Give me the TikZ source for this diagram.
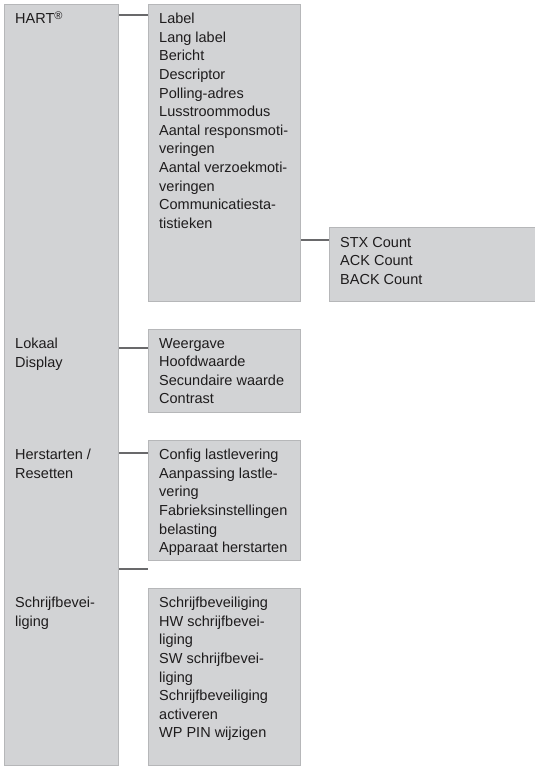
\documentclass[tikz,border=0pt]{standalone}
\usepackage{fontspec}
\setmainfont{Liberation Sans}
\usetikzlibrary{positioning}

\definecolor{boxfill}{RGB}{210,211,213}
\definecolor{boxline}{RGB}{182,183,185}
\definecolor{connline}{RGB}{105,105,107}
\definecolor{txtcol}{RGB}{30,28,29}

\begin{document}
\begin{tikzpicture}[
    x=1pt, y=1pt,
    font=\fontsize{14.5}{18.6}\selectfont,
    box/.style={rectangle, draw=boxline, fill=boxfill, line width=1.2pt, inner sep=0pt, anchor=north west},
    txt/.style={inner sep=0pt, align=left, text=txtcol},
    conn/.style={connline, line width=2pt}
  ]
  \useasboundingbox (0,0) rectangle (535,-766);

  % boxes
  \node (menu)  [box, minimum width=114pt, minimum height=761pt] at (4,-4)     {};
  \node (hart)  [box, minimum width=152pt, minimum height=297pt] at (148,-4)   {};
  \node (stx)   [box, minimum width=212pt, minimum height=74pt]  at (329,-227) {};
  \node (disp)  [box, minimum width=152pt, minimum height=83pt]  at (148,-329) {};
  \node (reset) [box, minimum width=152pt, minimum height=120pt] at (148,-440) {};
  \node (wp)    [box, minimum width=152pt, minimum height=177pt] at (148,-588) {};

  % menu entries on the left
  \coordinate (hartleft)  at (menu.west |- hart.north);
  \coordinate (displeft)  at (menu.west |- disp.north);
  \coordinate (resetleft) at (menu.west |- reset.north);
  \coordinate (wpleft)    at (menu.west |- wp.north);

  \node (harttitle)  [txt, below right=9pt and 11pt of hartleft]  {HART\smash{\raisebox{4pt}{\fontsize{11}{11}\selectfont ®}}};
  \node (disptitle)  [txt, below right=9pt and 11pt of displeft]  {Lokaal\\
                                                                  Display};
  \node (resettitle) [txt, below right=9pt and 11pt of resetleft] {Herstarten /\\
                                                                  Resetten};
  \node (wptitle)    [txt, below right=9pt and 11pt of wpleft]    {Schrijfbevei-\\
                                                                  liging};

  % sub menus
  \node (harttxt)  [txt, below right=9pt and 11pt of hart.north west]  {Label\\
                                                                        Lang label\\
                                                                        Bericht\\
                                                                        Descriptor\\
                                                                        Polling-adres\\
                                                                        Lusstroommodus\\
                                                                        Aantal responsmoti-\\
                                                                        veringen\\
                                                                        Aantal verzoekmoti-\\
                                                                        veringen\\
                                                                        Communicatiesta-\\
                                                                        tistieken};
  \node (stxtxt)   [txt, below right=10pt and 11pt of stx.north west]  {STX Count\\
                                                                        ACK Count\\
                                                                        BACK Count};
  \node (disptxt)  [txt, below right=9pt and 11pt of disp.north west]  {Weergave\\
                                                                        Hoofdwaarde\\
                                                                        Secundaire waarde\\
                                                                        Contrast};
  \node (resettxt) [txt, below right=9pt and 11pt of reset.north west] {Config lastlevering\\
                                                                        Aanpassing lastle-\\
                                                                        vering\\
                                                                        Fabrieksinstellingen\\
                                                                        belasting\\
                                                                        Apparaat herstarten};
  \node (wptxt)    [txt, below right=9pt and 11pt of wp.north west]    {Schrijfbeveiliging\\
                                                                        HW schrijfbevei-\\
                                                                        liging\\
                                                                        SW schrijfbevei-\\
                                                                        liging\\
                                                                        Schrijfbeveiliging\\
                                                                        activeren\\
                                                                        WP PIN wijzigen};

  % connectors
  \coordinate (hartin)  at ([yshift=-10.7pt]hart.north west);
  \coordinate (stxin)   at ([yshift=-13pt]stx.north west);
  \coordinate (dispin)  at ([yshift=-19pt]disp.north west);
  \coordinate (resetin) at ([yshift=-13pt]reset.north west);
  \coordinate (wpend)   at ([yshift=19pt]wp.north west);

  \draw[conn] (hartin -| menu.east)  -- (hartin);
  \draw[conn] (stxin -| hart.east)   -- (stxin);
  \draw[conn] (dispin -| menu.east)  -- (dispin);
  \draw[conn] (resetin -| menu.east) -- (resetin);
  \draw[conn] (wpend -| menu.east)   -- (wpend);
\end{tikzpicture}
\end{document}
